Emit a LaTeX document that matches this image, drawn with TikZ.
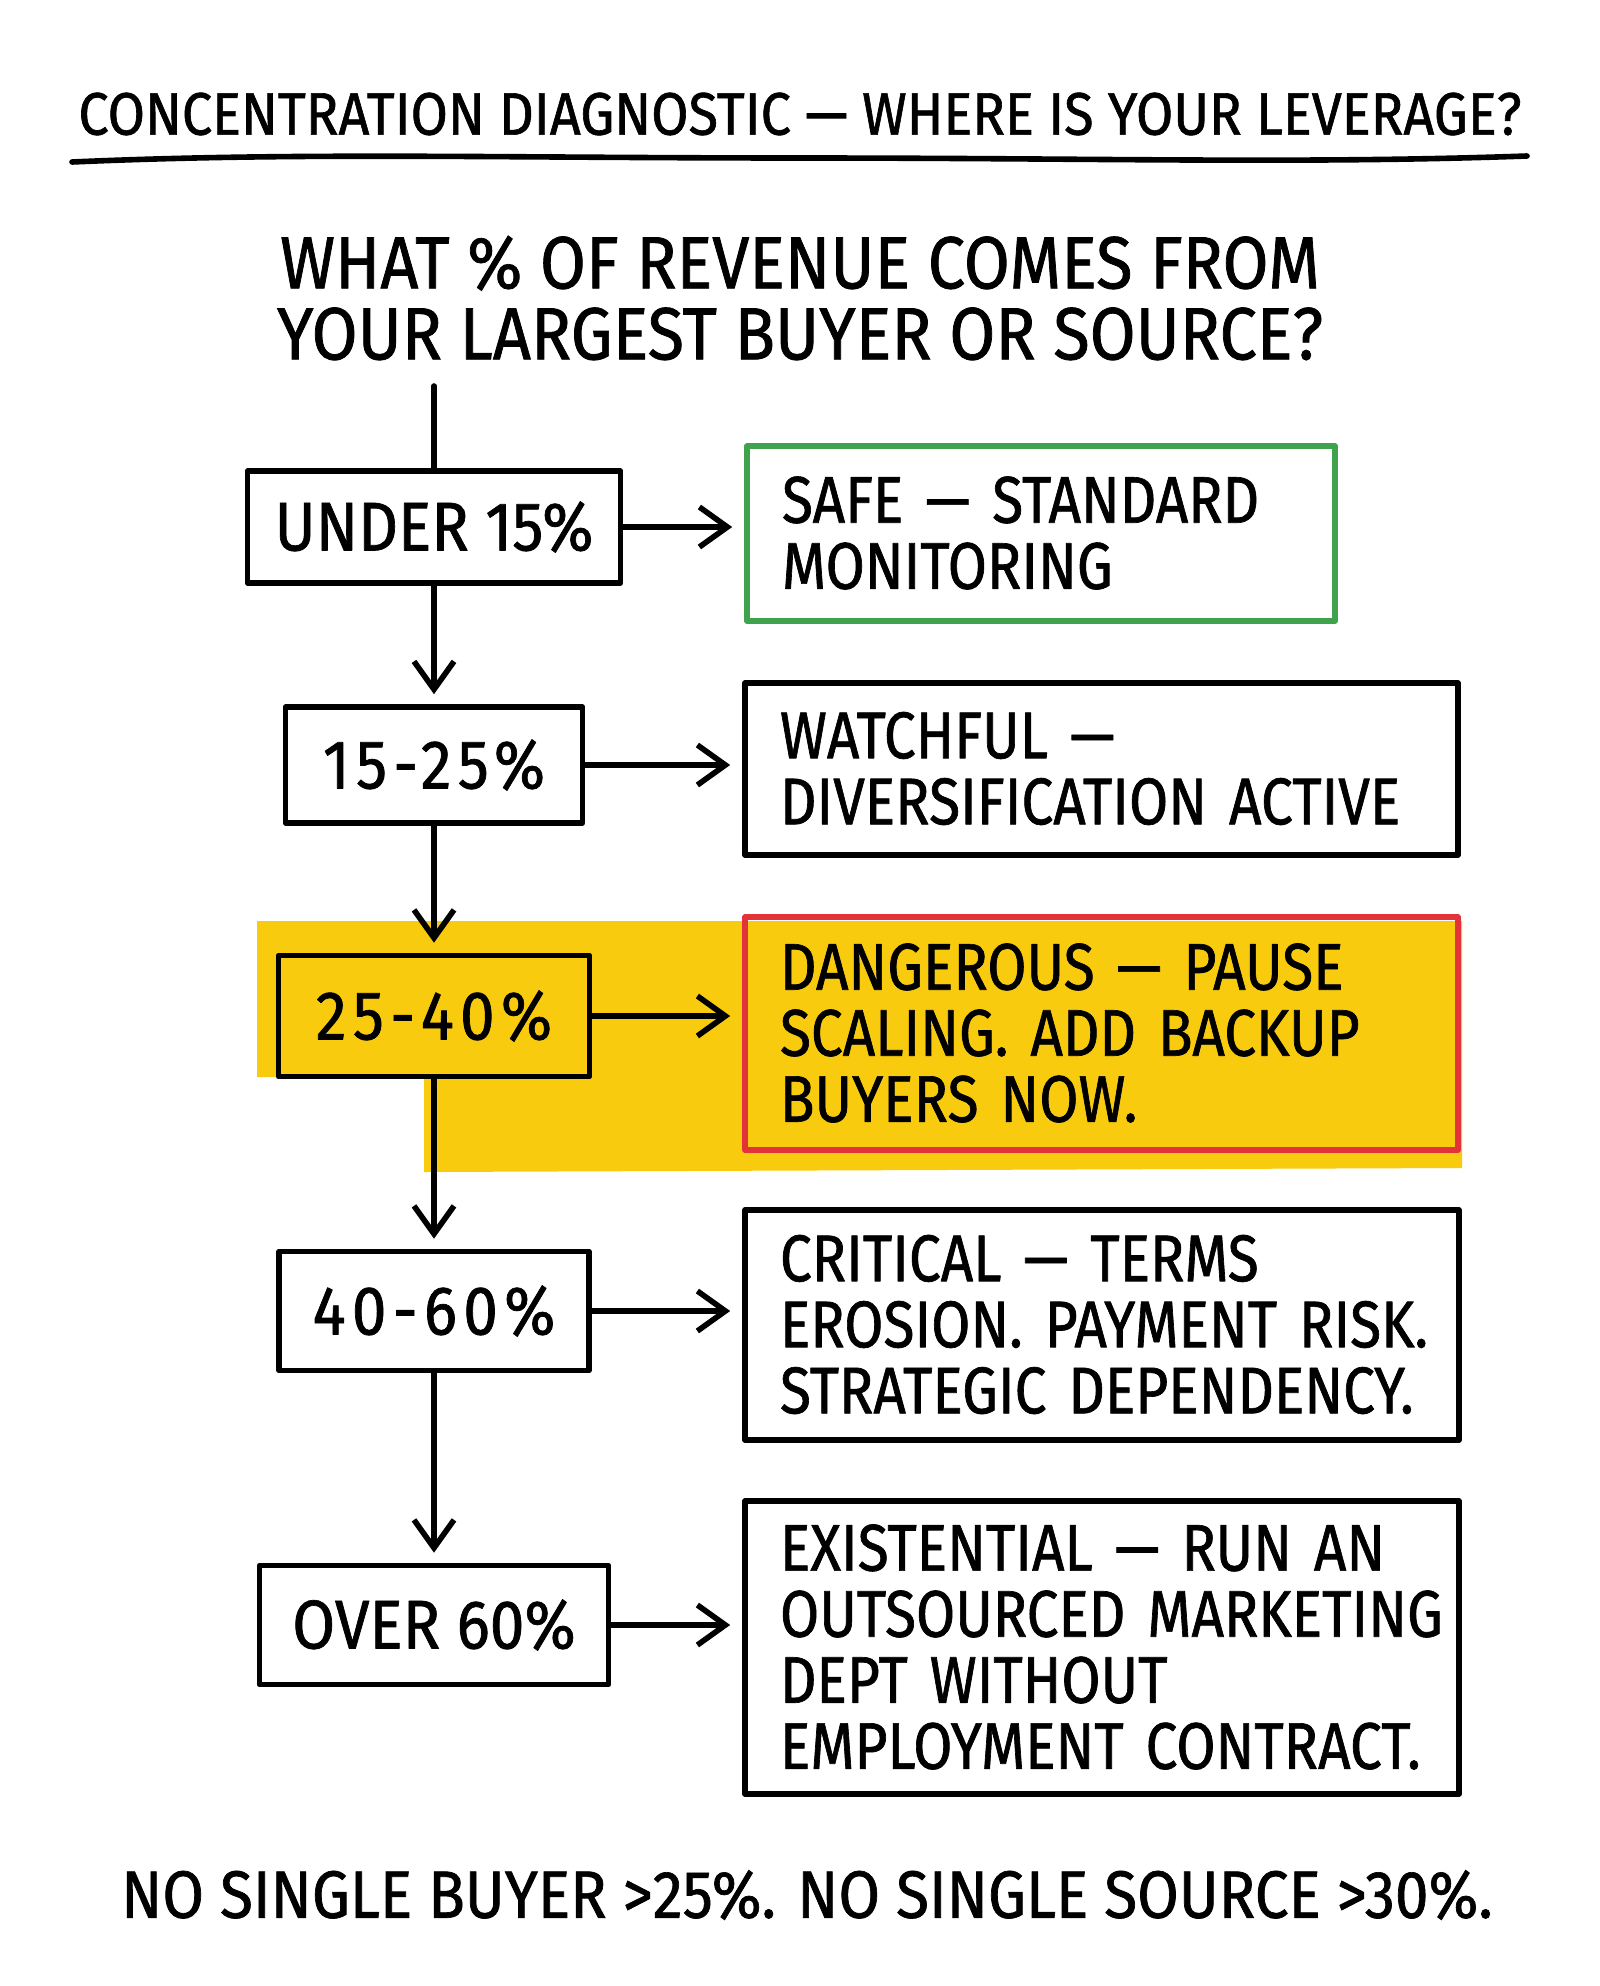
\documentclass[tikz,border=0pt]{standalone}
\usepackage{fontspec}
\setmainfont[FakeStretch=0.9,FakeBold=1]{Fira Sans}
\newfontfamily\verdictfont[Ligatures=TeX,FakeStretch=0.86,FakeBold=1]{Fira Sans}
\usepackage{tikz}
\usetikzlibrary{arrows.meta}
\definecolor{hiyellow}{HTML}{F9CB0E}
\definecolor{safegreen}{HTML}{3FA34D}
\definecolor{dangerred}{HTML}{E2323A}
\newcommand{\verdictlines}[1]{\begin{tabular}{@{}l@{}}#1\\[-9pt]\end{tabular}}
\tikzset{
  pen/.style={line width=2.8pt,line cap=round,line join=round},
  flow/.style={pen,-{Straight Barb[length=14pt,width=20pt,line width=2.8pt]}},
  rangebox/.style={pen,draw,inner sep=0pt,font=\fontsize{34.5}{34.5}\selectfont},
  spaced/.style={font=\fontsize{34.5}{34.5}\selectfont\addfontfeature{LetterSpace=9}},
  verdict/.style={pen,draw,inner xsep=17.5pt,inner ysep=0pt,align=left,
    font=\verdictfont\fontsize{33}{33}\selectfont},
}
\begin{document}
\begin{tikzpicture}[x=1pt,y=-1pt]
    \useasboundingbox (0,0) rectangle (800,993);
    \fill[hiyellow] (128.5,460.5) -- (731,460.5) -- (731,584)
      -- (212,586) -- (212,538.5) -- (128.5,538.5) -- cycle;
    \node (title) at (400,57) {\fontsize{30}{30}\selectfont CONCENTRATION DIAGNOSTIC --- WHERE IS YOUR LEVERAGE?};
    \draw[line width=2.8pt,line cap=round] (36,81) .. controls (150,76) and (250,79) .. (400,79)
      .. controls (550,79) and (650,82) .. (763.5,78);
    \node[align=center,font=\fontsize{37}{35.5}\selectfont] (question) at (400,149)
      {WHAT \% OF REVENUE COMES FROM\\YOUR LARGEST BUYER OR SOURCE?};
    \coordinate (start) at (217,193);
    \node[rangebox,minimum width=186.5pt,minimum height=56pt] (u15) at (217,263.5) {UNDER 15\%};
    \node[rangebox,spaced,minimum width=148.5pt,minimum height=58pt] (r1525) at (217,382.5) {15-25\%};
    \node[rangebox,spaced,minimum width=155.5pt,minimum height=60.5pt] (r2540) at (217,508) {25-40\%};
    \node[rangebox,spaced,minimum width=155pt,minimum height=59.5pt] (r4060) at (217,655.5) {40-60\%};
    \node[rangebox,minimum width=174.5pt,minimum height=59.5pt] (o60) at (217,812.5) {OVER 60\%};
    \node[verdict,draw=safegreen,text width=259pt,minimum height=87.5pt] (safe) at (520.5,266.75)
      {\verdictlines{SAFE --- STANDARD\\MONITORING}};
    \node[verdict,text width=321.5pt,minimum height=86pt] (watch) at (550.75,384.5)
      {\verdictlines{WATCHFUL ---\\DIVERSIFICATION ACTIVE}};
    \node[verdict,draw=dangerred,text width=321.5pt,minimum height=116.5pt] (danger) at (550.75,516.75)
      {\verdictlines{DANGEROUS --- PAUSE\\SCALING. ADD BACKUP\\BUYERS NOW.}};
    \node[verdict,text width=322pt,minimum height=115pt] (critical) at (551,662.5)
      {\verdictlines{CRITICAL --- TERMS\\EROSION. PAYMENT RISK.\\STRATEGIC DEPENDENCY.}};
    \node[verdict,text width=322pt,minimum height=146.5pt] (existential) at (551,823.75)
      {\verdictlines{EXISTENTIAL --- RUN AN\\OUTSOURCED MARKETING\\DEPT WITHOUT\\EMPLOYMENT CONTRACT.}};
    \draw[pen] (start) -- (u15.north);
    \draw[flow,shorten >=5pt] (u15) -- (r1525);
    \draw[flow,shorten >=5pt] (r1525) -- (r2540);
    \draw[flow,shorten >=5pt] (r2540) -- (r4060);
    \draw[flow,shorten >=5pt] (r4060) -- (o60);
    \draw[flow,shorten >=6pt] (u15.east) -- (u15.east -| safe.west);
    \draw[flow,shorten >=6pt] (r1525.east) -- (r1525.east -| watch.west);
    \draw[flow,shorten >=6pt] (r2540.east) -- (r2540.east -| danger.west);
    \draw[flow,shorten >=6pt] (r4060.east) -- (r4060.east -| critical.west);
    \draw[flow,shorten >=6pt] (o60.east) -- (o60.east -| existential.west);
    \node (rule) at (403.5,947.5) {\fontsize{33.5}{33.5}\selectfont NO SINGLE BUYER >25\%. NO SINGLE SOURCE >30\%.};
\end{tikzpicture}
\end{document}
